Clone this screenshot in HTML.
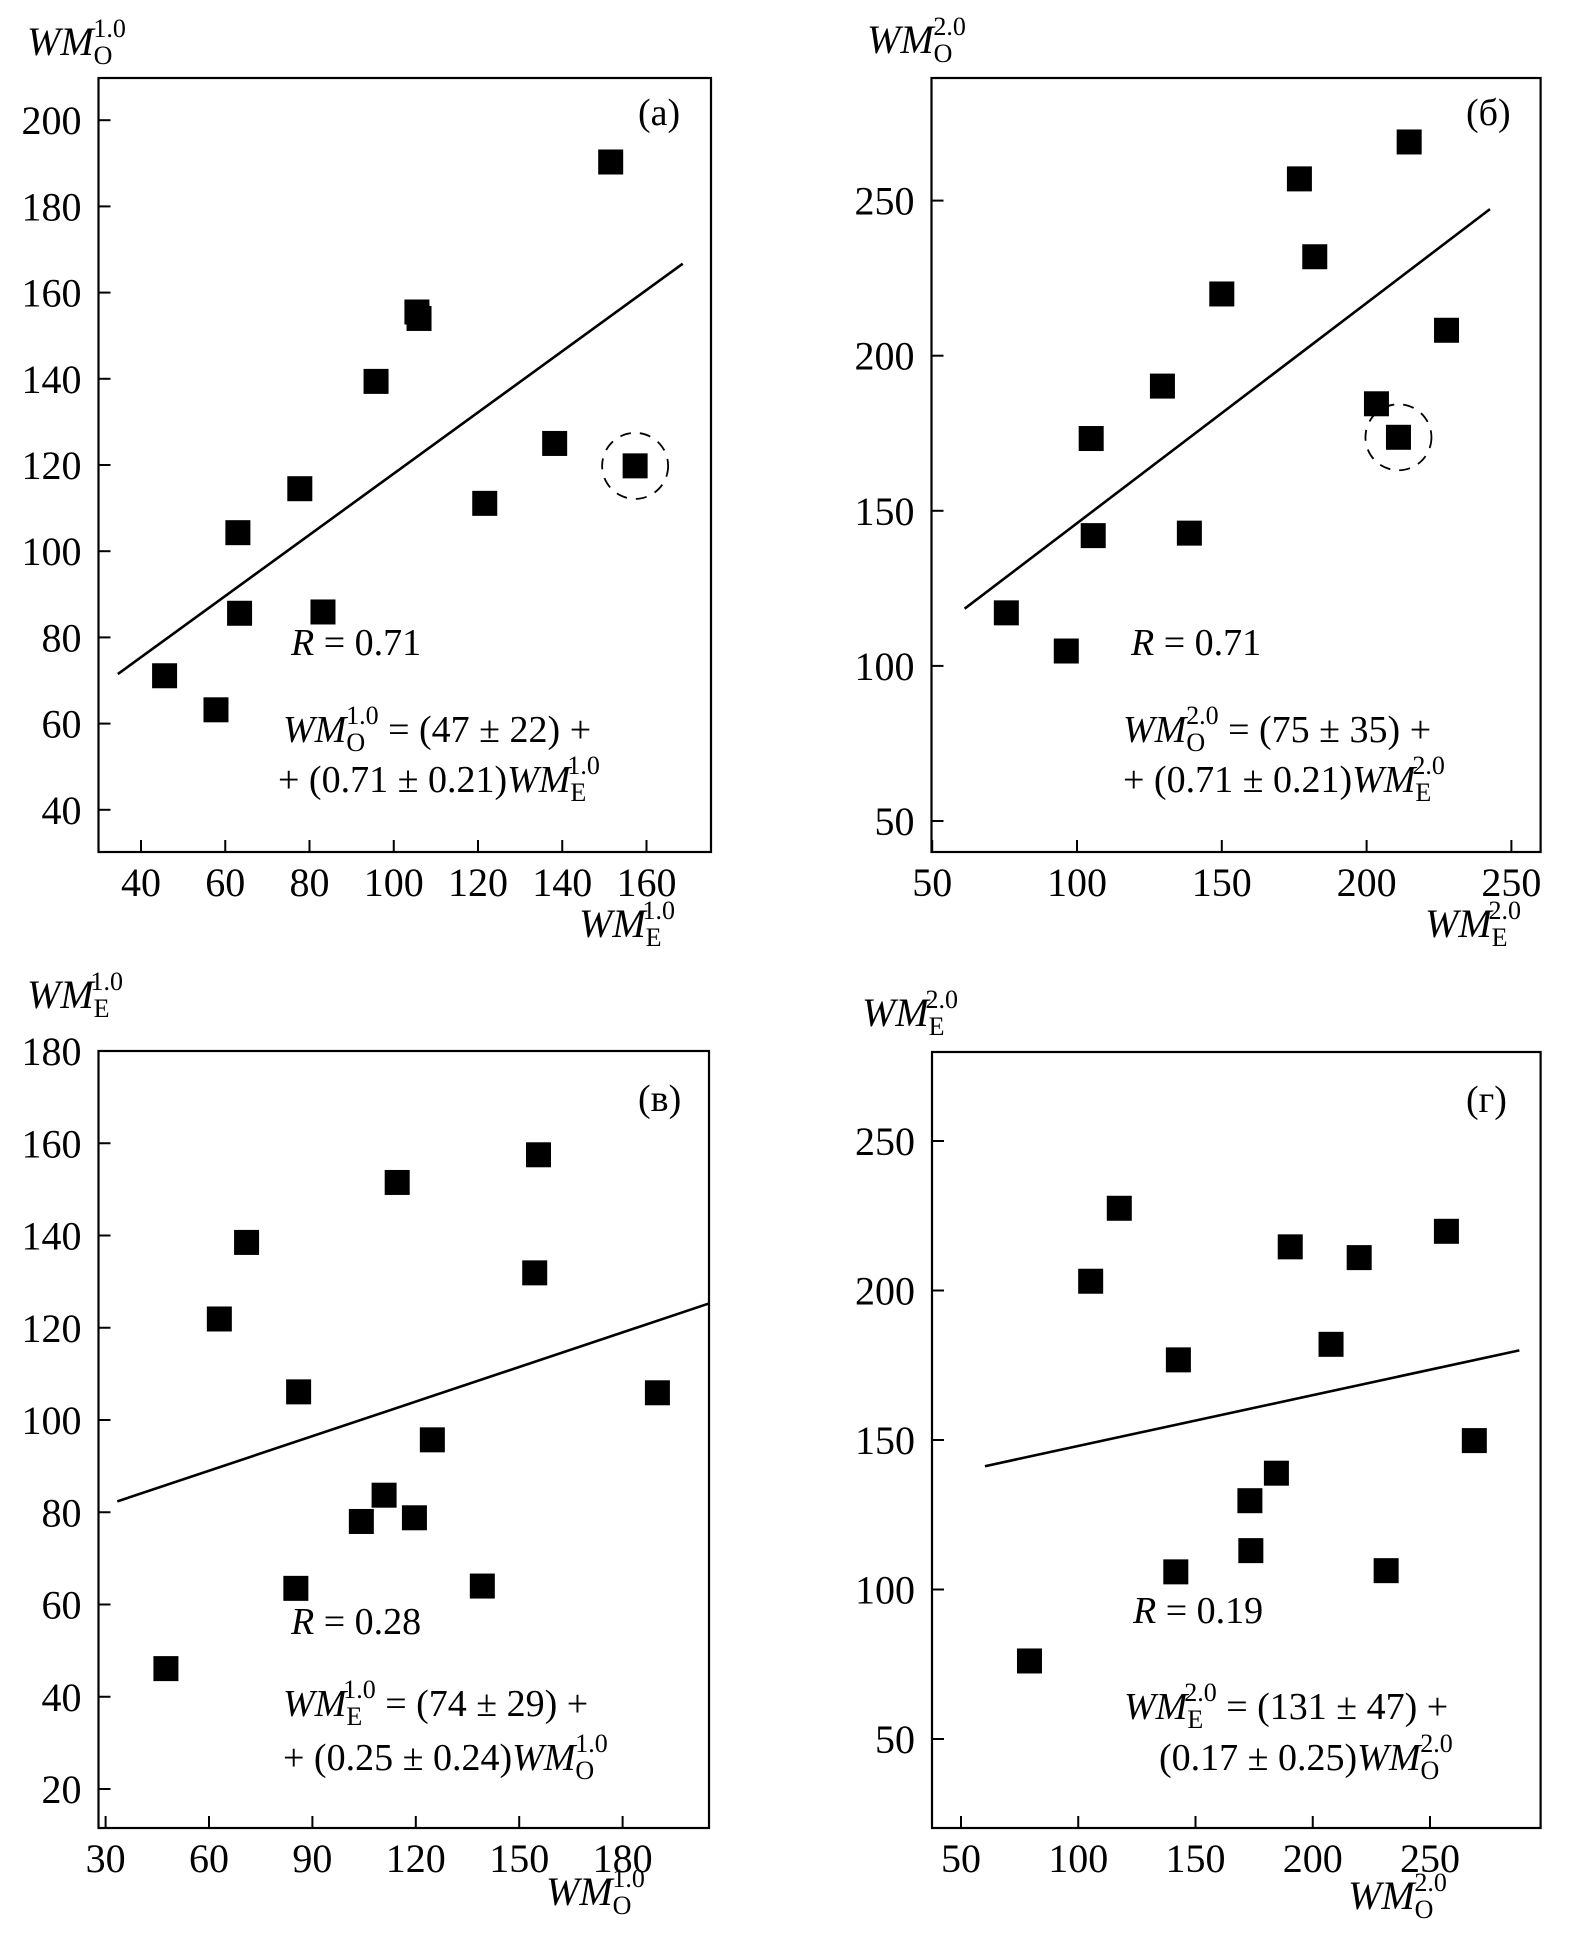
<!DOCTYPE html>
<html><head><meta charset="utf-8"><style>
html,body{margin:0;padding:0;background:#fff;}
svg{display:block;font-family:"Liberation Serif",serif;}
</style></head><body>
<svg id="fig" width="1583" height="1933" viewBox="0 0 1583 1933" xmlns="http://www.w3.org/2000/svg" font-family="Liberation Serif, serif"></svg>
<script>
// Panel (a): WM_O^1.0 vs WM_E^1.0
const aX = [151.5,105.5,106,95.8,138.2,157.3,121.6,77.7,63,63.4,83.2,45.6,57.8];
const aY = [190.3,155.5,154,139.4,125,119.8,111.1,114.5,104.3,85.6,85.9,71.1,63.2];
const aXTicks = [40,60,80,100,120,140,160];
const aYTicks = [40,60,80,100,120,140,160,180,200];
const aFit = [47,0.71];
const aFitRange = [34.5,168.6];
// Panel (б): WM_O^2.0 vs WM_E^2.0
const bX = [214.7,176.8,182.1,150,227.6,129.5,203.4,211,104.9,105.6,138.8,75.6,96.3];
const bY = [268.9,257,231.9,219.9,208.2,190.2,184.5,173.7,173.3,142,142.8,117.1,104.8];
const bXTicks = [50,100,150,200,250];
const bYTicks = [50,100,150,200,250];
const bFit = [75,0.71];
const bFitRange = [61.2,242.6];
// Panel (в): WM_E^1.0 vs WM_O^1.0
const cX = [155.6,114.6,70.9,154.5,63,86,190.1,124.8,110.8,104.2,119.6,85.2,139.3,47.5];
const cY = [157.5,151.5,138.5,131.9,121.9,106.1,105.9,95.7,83.7,78,78.8,63.5,64,46.1];
const cXTicks = [30,60,90,120,150,180];
const cYTicks = [20,40,60,80,100,120,140,160,180];
const cFit = [74,0.25];
const cFitRange = [33.4,205.2];
// Panel (г): WM_E^2.0 vs WM_O^2.0
const dX = [117.5,105.3,142.7,190.4,219.8,257,207.8,268.9,184.5,173.2,173.6,141.6,231.3,79.2];
const dY = [227.5,203.1,176.8,214.6,211,219.8,182,149.8,138.9,129.7,113,105.9,106.3,76.1];
const dXTicks = [50,100,150,200,250];
const dYTicks = [50,100,150,200,250];
const dFit = [131,0.17];
const dFitRange = [60.2,288.1];

const NS = "http://www.w3.org/2000/svg";
const svg = document.getElementById('fig');
function mk(tag, attrs, parent){
  const e = document.createElementNS(NS, tag);
  for (const k in attrs) e.setAttribute(k, attrs[k]);
  (parent||svg).appendChild(e);
  return e;
}
function wm(s, p, rest){
  return '<tspan font-style="italic">WM</tspan><tspan font-size="26" dy="9">' + s + '</tspan><tspan font-size="26" dx="-19" dy="-27">' + p + '</tspan><tspan dy="18">' + (rest || '\u200b') + '</tspan>';
}
function panel(cfg){
  const g = mk('g', {});
  
  
  const sx = v => cfg.x0px + (v - cfg.x0) * cfg.xk;
  const sy = v => cfg.y0px - (v - cfg.y0) * cfg.yk;
  const f = cfg.frame;
  const fr = mk('rect', {x:f[0], y:f[1], width:f[2]-f[0], height:f[3]-f[1], fill:'none', stroke:'#000', 'stroke-width':2.2}, g);
  
  
  cfg.yTicks.forEach(v => {
    const y = sy(v);
    const t = mk('line', {x1:f[0], x2:f[0]+12, y1:y, y2:y, stroke:'#000', 'stroke-width':2}, g);
    
    
    const l = mk('text', {x:f[0]-17, y:y+14, 'font-size':40, 'text-anchor':'end'}, g);
    l.textContent = v;
    
    
  });
  cfg.xTicks.forEach(v => {
    const x = sx(v);
    const t = mk('line', {x1:x, x2:x, y1:f[3], y2:f[3]-12, stroke:'#000', 'stroke-width':2}, g);
    
    
    const l = mk('text', {x:x, y:f[3]+44, 'font-size':40, 'text-anchor':'middle'}, g);
    l.textContent = v;
    
    
  });
  const ln = mk('line', {x1:sx(cfg.fr[0]), y1:sy(cfg.fit[0]+cfg.fit[1]*cfg.fr[0]), x2:sx(cfg.fr[1]), y2:sy(cfg.fit[0]+cfg.fit[1]*cfg.fr[1]), stroke:'#000', 'stroke-width':2.6}, g);
  
  
  cfg.xs.forEach((xv, i) => {
    const r = mk('rect', {x:sx(xv)-12.5, y:sy(cfg.ys[i])-12.5, width:25, height:25, fill:'#000'}, g);
    
    
  });
  if (cfg.circle !== undefined){
    const i = cfg.circle;
    const c = mk('circle', {cx:sx(cfg.xs[i]), cy:sy(cfg.ys[i]), r:33, fill:'none', stroke:'#000', 'stroke-width':1.8, 'stroke-dasharray':'11 9'}, g);
    
    
  }
  const tag = mk('text', {x:cfg.tag[0], y:cfg.tag[1], 'font-size':38}, g);
  tag.textContent = cfg.tag[2];
  
  
  const rt = mk('text', {x:cfg.r[0], y:cfg.r[1], 'font-size':38}, g);
  rt.innerHTML = '<tspan font-style="italic">R</tspan> = ' + cfg.r[2];
  
  
  const e1 = mk('text', {x:cfg.e1[0], y:cfg.e1[1], 'font-size':38}, g);
  e1.innerHTML = wm(cfg.e1[2], cfg.e1[3], cfg.e1[4]);
  
  
  const e2 = mk('text', {x:cfg.e2[0], y:cfg.e2[1], 'font-size':38}, g);
  e2.innerHTML = '<tspan>' + cfg.e2[4] + '</tspan>' + wm(cfg.e2[2], cfg.e2[3], '');
  
  
  const yt = mk('text', {x:cfg.yt[0], y:cfg.yt[1], 'font-size':40}, g);
  yt.innerHTML = wm(cfg.yt[2], cfg.yt[3], '');
  
  
  const xt = mk('text', {x:cfg.xt[0], y:cfg.xt[1], 'font-size':40}, g);
  xt.innerHTML = wm(cfg.xt[2], cfg.xt[3], '');
  
  
}
panel({name:'panel-a', frame:[98.5,78,711,852], x0:40, x0px:141, xk:4.2125, y0:200, y0px:120.2, yk:4.31,
  xTicks:aXTicks, yTicks:aYTicks, xs:aX, ys:aY, fit:aFit, fr:aFitRange, circle:5,
  tag:[638,125,'(a)'], r:[291,655,'0.71'],
  e1:[283,742,'O','1.0',' = (47 ± 22) +'], e2:[278,792,'E','1.0','+ (0.71 ± 0.21)'],
  yt:[27,55,'O','1.0'], xt:[579,937,'E','1.0']});
panel({name:'panel-b', frame:[931.5,78,1540.6,852], x0:100, x0px:1077, xk:2.896, y0:250, y0px:200.6, yk:3.102,
  xTicks:bXTicks, yTicks:bYTicks, xs:bX, ys:bY, fit:bFit, fr:bFitRange, circle:7,
  tag:[1466,125,'(б)'], r:[1131,655,'0.71'],
  e1:[1123,742,'O','2.0',' = (75 ± 35) +'], e2:[1123,792,'E','2.0','+ (0.71 ± 0.21)'],
  yt:[867,53,'O','2.0'], xt:[1425,937,'E','2.0']});
panel({name:'panel-v', frame:[98.5,1051,709,1828], x0:30, x0px:105.6, xk:3.4467, y0:180, y0px:1051, yk:4.6125,
  xTicks:cXTicks, yTicks:cYTicks, xs:cX, ys:cY, fit:cFit, fr:cFitRange,
  tag:[638,1111,'(в)'], r:[291,1634,'0.28'],
  e1:[283,1716,'E','1.0',' = (74 ± 29) +'], e2:[283,1770,'O','1.0','+ (0.25 ± 0.24)'],
  yt:[27,1008,'E','1.0'], xt:[546,1905,'O','1.0']});
panel({name:'panel-g', frame:[932,1052,1540.6,1828], x0:50, x0px:961, xk:2.345, y0:250, y0px:1141, yk:2.99,
  xTicks:dXTicks, yTicks:dYTicks, xs:dX, ys:dY, fit:dFit, fr:dFitRange,
  tag:[1466,1112,'(г)'], r:[1133,1623,'0.19'],
  e1:[1124,1719,'E','2.0',' = (131 ± 47) +'], e2:[1159,1770,'O','2.0','(0.17 ± 0.25)'],
  yt:[862,1026,'E','2.0'], xt:[1348,1909,'O','2.0']});
</script>
</body></html>
